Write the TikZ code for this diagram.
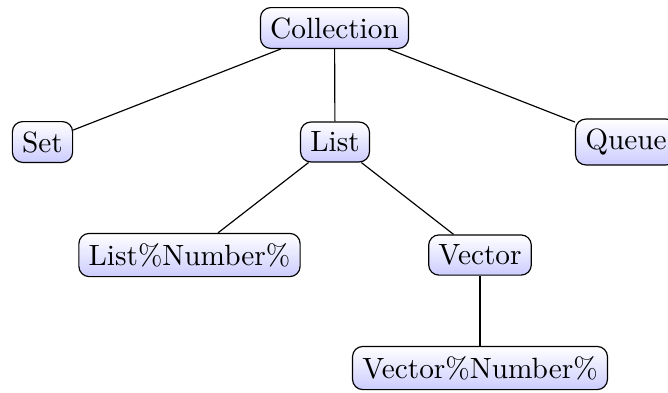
\documentclass[tikz,border=0pt]{standalone}
\begin{document}
\begin{tikzpicture}[x=0.3413pt,y=-0.3413pt,
  treenode/.style={draw,rounded corners=3.5pt,top color=white,bottom color=blue!20,inner sep=0.3333em},
  edge/.style={draw,black}]
\useasboundingbox (0,0) rectangle (668,392);
\node[treenode] (coll) at (334.5,28) {Collection};
\node[treenode] (set) at (42.5,142) {Set};
\node[treenode] (list) at (335,142) {List};
\node[treenode] (queue) at (626,142) {Queue};
\node[treenode] (listnum) at (189.5,255) {List\%Number\%};
\node[treenode] (vector) at (480,255) {Vector};
\node[treenode] (vecnum) at (480,368) {Vector\%Number\%};
\draw[edge] (coll) -- (set);
\draw[edge] (coll) -- (list);
\draw[edge] (coll) -- (queue);
\draw[edge] (list) -- (listnum);
\draw[edge] (list) -- (vector);
\draw[edge] (vector) -- (vecnum);
\end{tikzpicture}
\end{document}
